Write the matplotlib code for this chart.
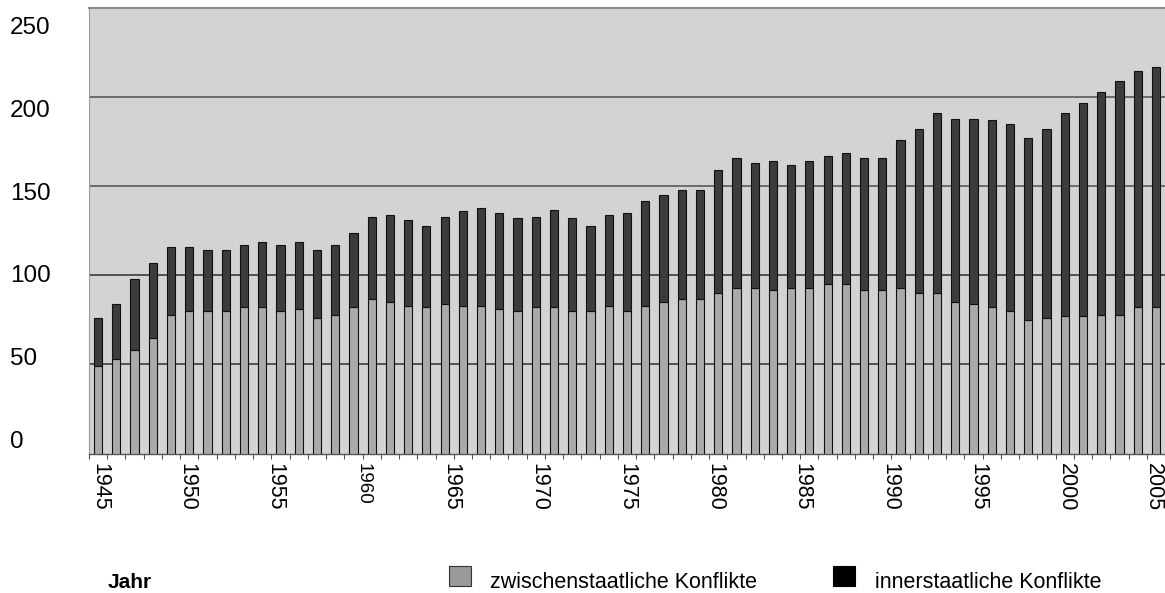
import numpy as np
import matplotlib
matplotlib.use("Agg")
import matplotlib.pyplot as plt
from matplotlib.transforms import ScaledTranslation
from matplotlib.patches import Rectangle

plt.rcParams['font.family'] = ['Liberation Sans', 'DejaVu Sans']

# Jahre 1945 - 2003 (sichtbarer Bereich)
years = np.arange(1945, 2004)

# zwischenstaatliche Konflikte
inter = [49, 53, 58, 65, 78, 80, 80, 80, 82, 82, 80, 81, 76, 78, 82, 87, 85,
         83, 82, 84, 83, 83, 81, 80, 82, 82, 80, 80, 83, 80, 83, 85, 87, 87, 90, 93, 93, 92,
         93, 93, 95, 95, 92, 92, 93, 90, 90, 85, 84, 82, 80, 75, 76, 77, 77, 78, 78, 82, 82]

# innerstaatliche Konflikte
inner = [27, 31, 40, 42, 38, 36, 34, 34, 35, 37, 37, 38, 38, 39, 42, 46, 49,
         48, 46, 49, 53, 55, 54, 52, 51, 55, 52, 48, 51, 55, 59, 60, 61, 61, 69, 73, 70, 72,
         69, 71, 72, 74, 74, 74, 83, 92, 101, 103, 104, 105, 105, 102, 106, 114, 120, 125, 131, 133, 135]

label_years = np.arange(1945, 2006, 5)
y_ticks = [0, 50, 100, 150, 200, 250]
y_label_shift = [14, 8, 2, -5, -11, -17]   # pixel shift of the y labels

fig = plt.figure(figsize=(11.65, 5.93), dpi=100)
ax = fig.add_axes([89 / 1165, 1 - 453.5 / 593, 1 - 89 / 1165, (453.5 - 8.3) / 593])
ax.set_facecolor('#d3d3d3')

x = np.arange(len(years))
ax.bar(x, inter, width=0.45, color='#aaaaaa', edgecolor='#111111', linewidth=0.8, zorder=3)
ax.bar(x, inner, width=0.45, bottom=inter, color='#3c3c3c', edgecolor='#111111',
       linewidth=0.8, zorder=3)

ax.set_xlim(-0.42, 58.38)
ax.set_ylim(0, 250)

# gridlines
for v in [50, 100, 150, 200]:
    ax.axhline(v, color='#2e2e2e' if v <= 100 else '#505050', lw=1.1, zorder=1)

ax.spines['right'].set_visible(False)
ax.spines['top'].set_color('#8a8a8a')
ax.spines['top'].set_linewidth(1.5)
ax.spines['left'].set_color('#9a9a9a')
ax.spines['left'].set_linewidth(0.8)
ax.spines['bottom'].set_color('#555555')
ax.spines['bottom'].set_linewidth(1.0)

# y axis labels
ax.set_yticks(y_ticks)
ax.set_yticklabels([str(v) for v in y_ticks], fontsize=17.5)
ax.tick_params(axis='y', length=0, pad=57)
for lab, dy in zip(ax.get_yticklabels(), y_label_shift):
    lab.set_horizontalalignment('left')
    lab.set_transform(lab.get_transform() + ScaledTranslation(0, dy / 100, fig.dpi_scale_trans))

# x axis: small ticks between bars, year labels every 5 years
ax.set_xticks(np.arange(-0.5, len(years), 1), minor=True)
ax.tick_params(axis='x', which='minor', length=3.5, width=0.8, color='#555555', direction='out')
label_pos = 0.07 + (label_years - 1945) * 0.9636
ax.set_xticks(label_pos)
ax.set_xticklabels([str(y) for y in label_years], rotation=270, fontsize=15.5)
ax.tick_params(axis='x', which='major', length=0, pad=7)
for lab in ax.get_xticklabels():
    lab.set_verticalalignment('top')
    if lab.get_text() == '1960':
        lab.set_fontsize(13.5)

# legend row
fig.text(108 / 1165, 1 - 582 / 593, 'Jahr', fontsize=15, fontweight='bold', va='center')
fig.patches.append(Rectangle((449 / 1165, 1 - 586 / 593), 22 / 1165, 20 / 593,
                             transform=fig.transFigure, facecolor='#999999',
                             edgecolor='#333333', linewidth=0.8))
fig.text(490 / 1165, 1 - 582 / 593, 'zwischenstaatliche Konflikte', fontsize=15.5, va='center')
fig.patches.append(Rectangle((833 / 1165, 1 - 586 / 593), 22 / 1165, 20 / 593,
                             transform=fig.transFigure, facecolor='black',
                             edgecolor='black', linewidth=0.8))
fig.text(875 / 1165, 1 - 582 / 593, 'innerstaatliche Konflikte', fontsize=15.5, va='center')

fig.savefig('out.png', dpi=100, facecolor='white')
